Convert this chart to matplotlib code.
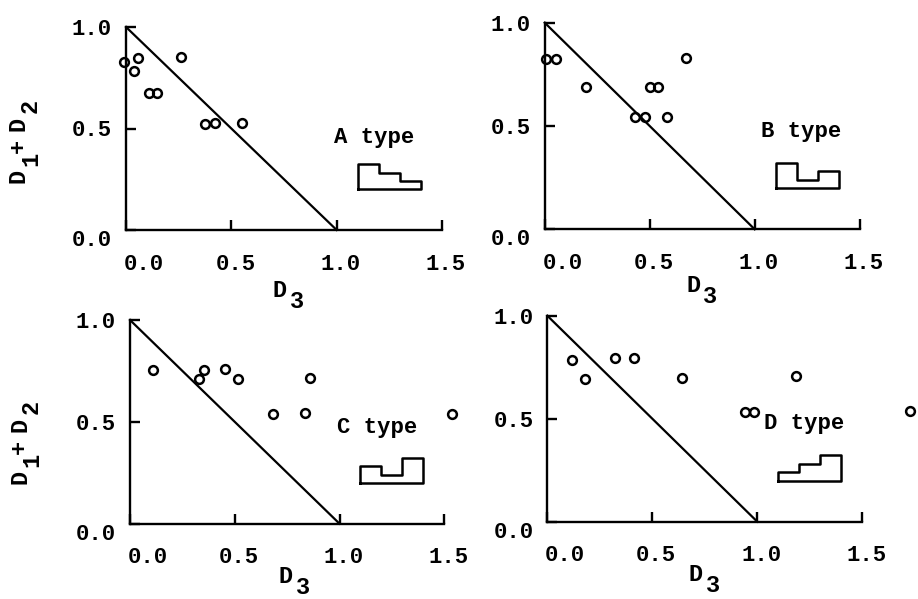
import matplotlib
matplotlib.use("Agg")
import matplotlib.pyplot as plt
from matplotlib.transforms import ScaledTranslation

FONT = "Liberation Mono"
plt.rcParams['font.family'] = [FONT, 'DejaVu Sans Mono']
plt.rcParams['font.weight'] = 'bold'

W, H = 918, 599

# ---------------- data ----------------
a_x = [-0.01, 0.055, 0.038, 0.110, 0.149, 0.262, 0.376, 0.424, 0.550]
a_y = [0.826, 0.845, 0.783, 0.676, 0.676, 0.852, 0.524, 0.525, 0.525]

b_x = [0.008, 0.052, 0.198, 0.432, 0.476, 0.500, 0.540, 0.581, 0.671]
b_y = [0.826, 0.826, 0.690, 0.545, 0.542, 0.687, 0.687, 0.545, 0.831]

c_x = [0.111, 0.331, 0.354, 0.454, 0.516, 0.682, 0.834, 0.858, 1.537]
c_y = [0.756, 0.710, 0.753, 0.759, 0.710, 0.538, 0.543, 0.717, 0.540]

d_x = [0.117, 0.178, 0.321, 0.411, 0.643, 0.943, 0.984, 1.183, 1.729]
d_y = [0.785, 0.691, 0.793, 0.793, 0.696, 0.534, 0.534, 0.707, 0.539]

line_x = [0.0, 1.0]
line_y = [1.0, 0.0]

x_ticks = [0.0, 0.5, 1.0, 1.5]
x_tick_labels = ["0.0", "0.5", "1.0", "1.5"]
y_ticks = [0.0, 0.5, 1.0]
y_tick_labels = ["0.0", "0.5", "1.0"]

type_labels = ["A type", "B type", "C type", "D type"]
# relative step heights of the schematic profiles
profiles = [[3, 2, 1], [3, 1, 2], [2, 1, 3], [1, 2, 3]]

series = [(a_x, a_y), (b_x, b_y), (c_x, c_y), (d_x, d_y)]

# ---------------- layout (pixels) ----------------
# (x of D3=0, x of D3=1.5, y of 0, y of 1)
panel_px = [(126, 442, 230, 27),
            (544.7, 859.7, 229.3, 22.7),
            (130, 444.3, 523.7, 320),
            (547.3, 862.3, 521.7, 315.7)]
type_pos = [(0.986, 0.458), (1.029, 0.473), (0.987, 0.471), (1.032, 0.477)]
xlabel_anchor = [(273, 297), (686, 292), (279, 583), (689, 581)]
ylabel_anchor = {0: (25, 183), 2: (26, 484)}

fig = plt.figure(figsize=(W / 100, H / 100), dpi=100)


def text_pieces(x, y, pieces, rot=0, size=17):
    for s, along, perp in pieces:
        if rot == 0:
            px, py = x + along, y + perp
        else:
            px, py = x + perp, y - along
        fig.text(px / W, 1 - py / H, s, rotation=rot, rotation_mode='anchor',
                 ha='left', va='baseline', fontsize=size, color='black')


for i, (ax_px, (sx, sy)) in enumerate(zip(panel_px, series)):
    x0, x15, y0, y1 = ax_px
    ax = fig.add_axes([x0 / W, 1 - y0 / H, (x15 - x0) / W, (y0 - y1) / H])
    ax.set_xlim(0, 1.5)
    ax.set_ylim(0, 1)
    ax.patch.set_alpha(0)
    for side in ('top', 'right'):
        ax.spines[side].set_visible(False)
    for side in ('left', 'bottom'):
        ax.spines[side].set_linewidth(1.7)
    ax.tick_params(direction='in', length=7.5, width=1.7, labelsize=16,
                   color='black', labelcolor='black')
    ax.tick_params(axis='x', pad=17)
    ax.tick_params(axis='y', pad=10)
    ax.set_xticks(x_ticks)
    ax.set_xticklabels(x_tick_labels)
    ax.set_yticks(y_ticks)
    ax.set_yticklabels(y_tick_labels)
    # small shifts of the typed tick labels
    for j, lab in enumerate(ax.get_xticklabels()):
        dx = 18 if j == 0 else 4
        lab.set_transform(lab.get_transform() +
                          ScaledTranslation(dx / 100, 0, fig.dpi_scale_trans))
    lab0 = ax.get_yticklabels()[0]
    lab0.set_transform(lab0.get_transform() +
                       ScaledTranslation(0, -8 / 100, fig.dpi_scale_trans))

    ax.plot(line_x, line_y, color='black', lw=1.6, clip_on=False)
    ax.plot(sx, sy, linestyle='none', marker='o', ms=6.3, mfc='none',
            mec='black', mew=1.8, clip_on=False)

    tx, ty = type_pos[i]
    ax.text(tx, ty, type_labels[i], ha='left', va='center', fontsize=16)

    # schematic step profile
    unit, base, xs, step = 0.041, 0.2, 1.1, 0.1
    prof = profiles[i]
    px_ = [xs]
    py_ = [base]
    for k, h in enumerate(prof):
        px_ += [xs + k * step, xs + (k + 1) * step]
        py_ += [base + h * unit, base + h * unit]
    px_ += [xs + len(prof) * step, xs]
    py_ += [base, base]
    ax.plot(px_, py_, color='black', lw=1.8, clip_on=False)

    xa, ya = xlabel_anchor[i]
    text_pieces(xa, ya, [("D", 0, 0), ("3", 17, 11)])
    if i in ylabel_anchor:
        xa, ya = ylabel_anchor[i]
        text_pieces(xa, ya, [("D", 0, 0), ("1", 17, 12), ("+", 30, 0),
                             ("D", 52, 0), ("2", 70, 12)], rot=90)

fig.savefig("out.png", dpi=100)
